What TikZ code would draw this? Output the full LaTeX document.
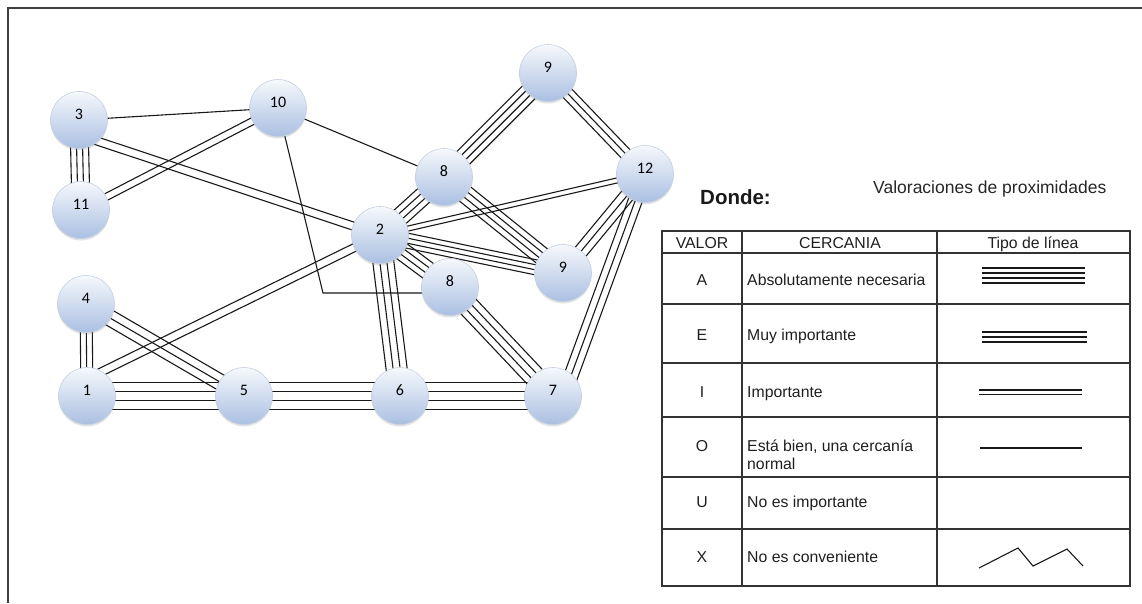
\documentclass[tikz,border=0pt]{standalone}
\usepackage{fontspec}
\setmainfont{Liberation Sans}
\newfontfamily\numfont{Carlito}
\usetikzlibrary{calc,shadows,backgrounds}

% #1,#2: end nodes, #3: number of parallel strokes, #4: gap between strokes
\newcommand\linkset[4]{%
  \foreach \i in {1,...,#3}{%
    \pgfmathsetmacro\off{(\i-(#3+1)/2)*#4}%
    \draw[linkline] ($(#1)!\off pt!90:(#2)$) -- ($(#2)!\off pt!-90:(#1)$);
  }}

\begin{document}
\begin{tikzpicture}[x=1pt,y=-1pt,
  station/.style={circle, minimum size=57pt, inner sep=0pt,
    draw={rgb,255:red,196;green,207;blue,224}, line width=0.6pt,
    top color={rgb,255:red,246;green,248;blue,252},
    bottom color={rgb,255:red,170;green,192;blue,226},
    font=\numfont\fontsize{16}{16}\selectfont,
    text height=10pt, text depth=12pt,
    drop shadow={shadow xshift=0pt, shadow yshift=-2pt, opacity=0.22, fill=gray}},
  linkline/.style={line width=1.1pt, draw=black!90},
  grid/.style={line width=1.3pt, draw=black!80},
  frameline/.style={line width=2pt, draw=black!75},
  cell/.style={anchor=base, inner sep=0pt, text=black!88,
    font=\fontsize{15.8}{18}\selectfont},
  celltext/.style={cell, anchor=base west, align=left}]

\useasboundingbox (0,0) rectangle (1142,603);
\draw[frameline] (8,603) -- (8,8) -- (1142,8);

% stations
\node[station] (n3)  at (79,120)  {3};
\node[station] (n10) at (278,108) {10};
\node[station] (n11) at (81,210)  {11};
\node[station] (n9a) at (548,73)  {9};
\node[station] (n8a) at (444,177) {8};
\node[station] (n12) at (645,174) {12};
\node[station] (n2)  at (380,235) {2};
\node[station] (n9b) at (563,273) {9};
\node[station] (n8b) at (450,287) {8};
\node[station] (n4)  at (86,304)  {4};
\node[station] (n1)  at (87,396)  {1};
\node[station] (n5)  at (244,396) {5};
\node[station] (n6)  at (400,396) {6};
\node[station] (n7)  at (553,396) {7};

% off-centre attachment points
\coordinate (n3b) at ($(n3)+(0,15)$);
\coordinate (n1t) at ($(n1)+(12,-23)$);
\coordinate (n7r) at ($(n7)+(12,-4)$);
\coordinate (bend) at (323,293);

\begin{pgfonlayer}{background}
  \linkset{n3}{n10}{1}{0}
  \linkset{n3}{n11}{4}{6}
  \linkset{n3b}{n2}{2}{8}
  \linkset{n11}{n10}{2}{7}
  \linkset{n10}{n8a}{1}{0}
  \draw[linkline] (n10) -- (bend) -- (bend -| n8b);
  \linkset{n9a}{n8a}{4}{6}
  \linkset{n9a}{n12}{3}{6}
  \linkset{n8a}{n2}{4}{6}
  \linkset{n8a}{n9b}{4}{6}
  \linkset{n2}{n12}{2}{5}
  \linkset{n2}{n9b}{4}{5}
  \linkset{n2}{n8b}{4}{6}
  \linkset{n2}{n6}{4}{7}
  \linkset{n1t}{n2}{2}{8}
  \linkset{n12}{n9b}{3}{7}
  \linkset{n12}{n7r}{3}{7}
  \linkset{n8b}{n7}{4}{7}
  \linkset{n4}{n1}{3}{6}
  \linkset{n4}{n5}{3}{8}
  \linkset{n1}{n5}{4}{9}
  \linkset{n5}{n6}{4}{9}
  \linkset{n6}{n7}{4}{9}
\end{pgfonlayer}

% legend heading
\node[anchor=base west, inner sep=0pt, text=black!90,
  font=\bfseries\fontsize{20.5}{22}\selectfont] (donde) at (700,204) {Donde:};
\node[anchor=base west, inner sep=0pt, text=black!85,
  font=\fontsize{17.5}{20}\selectfont] (titulo) at (873,193) {Valoraciones de proximidades};

% legend table
\draw[grid] (662,231) rectangle (1130,586);
\foreach \xx in {742,937} \draw[grid] (\xx,231) -- (\xx,586);
\foreach \yy in {253,304,363,417,477,529} \draw[grid] (662,\yy) -- (1130,\yy);

\node[cell] (hv) at (702,248.5) {VALOR};
\node[cell] (hc) at (840,248.5) {CERCANIA};
\node[cell] (ht) at (1033,248.5) {Tipo de línea};

\node[cell] (va) at (702,285.5) {A};
\node[cell] (ve) at (702,340.5) {E};
\node[cell] (vi) at (702,397.5) {I};
\node[cell] (vo) at (702,451.5) {O};
\node[cell] (vu) at (702,507.5) {U};
\node[cell] (vx) at (702,562.5) {X};

\node[celltext] (ca) at (747,285.5) {Absolutamente necesaria};
\node[celltext] (ce) at (747,340.5) {Muy importante};
\node[celltext] (ci) at (747,397.5) {Importante};
\node[celltext] (co) at (747,469.5) {Está bien, una cercanía\\normal};
\node[celltext] (cu) at (747,507.5) {No es importante};
\node[celltext] (cx) at (747,562.5) {No es conveniente};

% line-type samples
\foreach \yy in {268,273,278,283} \draw[linkline] (982,\yy) -- (1085,\yy);
\foreach \yy in {332,337,342} \draw[linkline] (982,\yy) -- (1087,\yy);
\foreach \yy in {390,394.5} \draw[linkline] (979,\yy) -- (1082,\yy);
\draw[linkline] (980,448) -- (1082,448);
\draw[linkline] (979,568) -- (1018,548) -- (1033,566) -- (1067,549) -- (1083,566);

\end{tikzpicture}
\end{document}
